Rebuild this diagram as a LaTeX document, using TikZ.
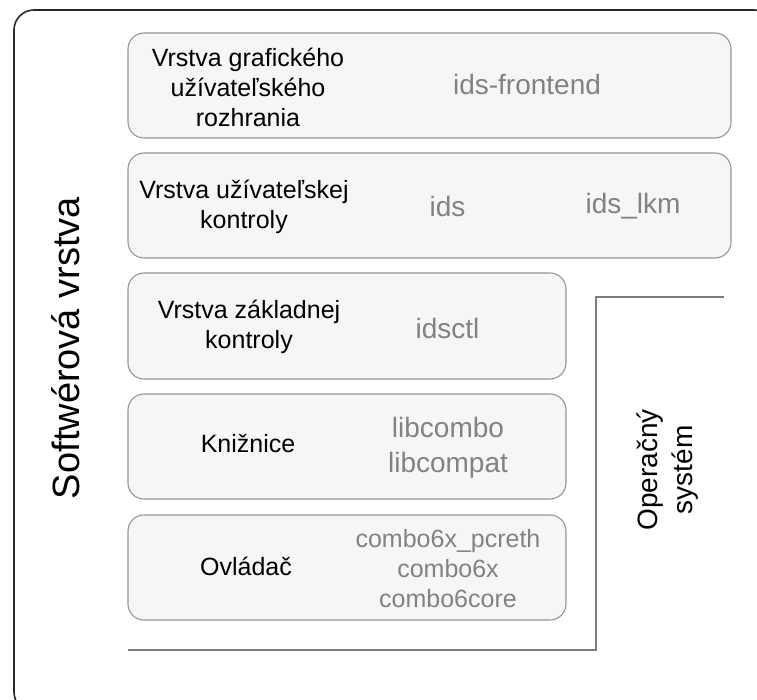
\documentclass[tikz,border=0pt]{standalone}
\usepackage{fontspec}
\setmainfont{Liberation Sans}
\definecolor{outerline}{RGB}{40,40,40}
\definecolor{boxline}{RGB}{150,150,150}
\definecolor{boxfill}{RGB}{246,246,248}
\definecolor{txtgray}{RGB}{130,130,130}
\definecolor{osline}{RGB}{125,125,125}
\tikzset{
  layerbox/.style={draw=boxline, fill=boxfill, line width=1.1pt, rounded corners=16pt, inner sep=0pt},
  blacklabel/.style={align=center, text=black, font=\fontsize{25}{30}\selectfont, inner sep=0pt},
  graylabel/.style={align=center, text=txtgray, font=\fontsize{28}{35}\selectfont, inner sep=0pt},
  smallgray/.style={align=center, text=txtgray, font=\fontsize{25}{30}\selectfont, inner sep=0pt},
  osline/.style={draw=osline, line width=1.4pt},
}
\begin{document}
\begin{tikzpicture}[x=1pt, y=-1pt]
\useasboundingbox (0,0) rectangle (757,700);
\begin{scope}
\clip (0,0) rectangle (757,700);
\draw[outerline, line width=1.6pt, rounded corners=20pt] (14,10) rectangle (774,712);
\end{scope}
% boxes
\node[layerbox, minimum width=603pt, minimum height=105pt] (b1) at (429.5,85.5) {};
\node[layerbox, minimum width=603pt, minimum height=105pt] (b2) at (429.5,205.5) {};
\node[layerbox, minimum width=438pt, minimum height=106pt] (b3) at (347,326) {};
\node[layerbox, minimum width=438pt, minimum height=105pt] (b4) at (347,446.5) {};
\node[layerbox, minimum width=438pt, minimum height=105pt] (b5) at (347,567.5) {};
% black labels
\node[blacklabel] (l1) at (248,87) {Vrstva grafického\\užívateľského\\rozhrania};
\node[blacklabel] (l2) at (244,207) {Vrstva užívateľskej\\kontroly};
\node[blacklabel] (l3) at (249,327) {Vrstva základnej\\kontroly};
\node[blacklabel] (l4) at (248,444) {Knižnice};
\node[blacklabel] (l5) at (246,566) {Ovládač};
% gray labels
\node[graylabel] (g1) at (527,84) {ids-frontend};
\node[graylabel] (g2) at (447.5,206) {ids};
\node[graylabel] (g3) at (633,206) {ids\_lkm};
\node[graylabel] (g4) at (447.5,328) {idsctl};
\node[graylabel] (g5) at (448,448) {libcombo\\libcompat};
\node[smallgray] (g6) at (448,569) {combo6x\_pcreth\\combo6x\\combo6core};
% OS outline
\coordinate (osA) at (724,297);
\coordinate (osB) at (596,297);
\coordinate (osC) at (596,650);
\coordinate (osD) at (128,650);
\draw[osline] (osA) -- (osB) -- (osC) -- (osD);
% rotated labels
\node[rotate=90, font=\fontsize{38}{45}\selectfont, inner sep=0pt] (sw) at (66,348) {Softwérová vrstva};
\node[rotate=90, align=center, font=\fontsize{28}{35}\selectfont, inner sep=0pt] (os) at (668,470) {Operačný\\systém};
\end{tikzpicture}
\end{document}
